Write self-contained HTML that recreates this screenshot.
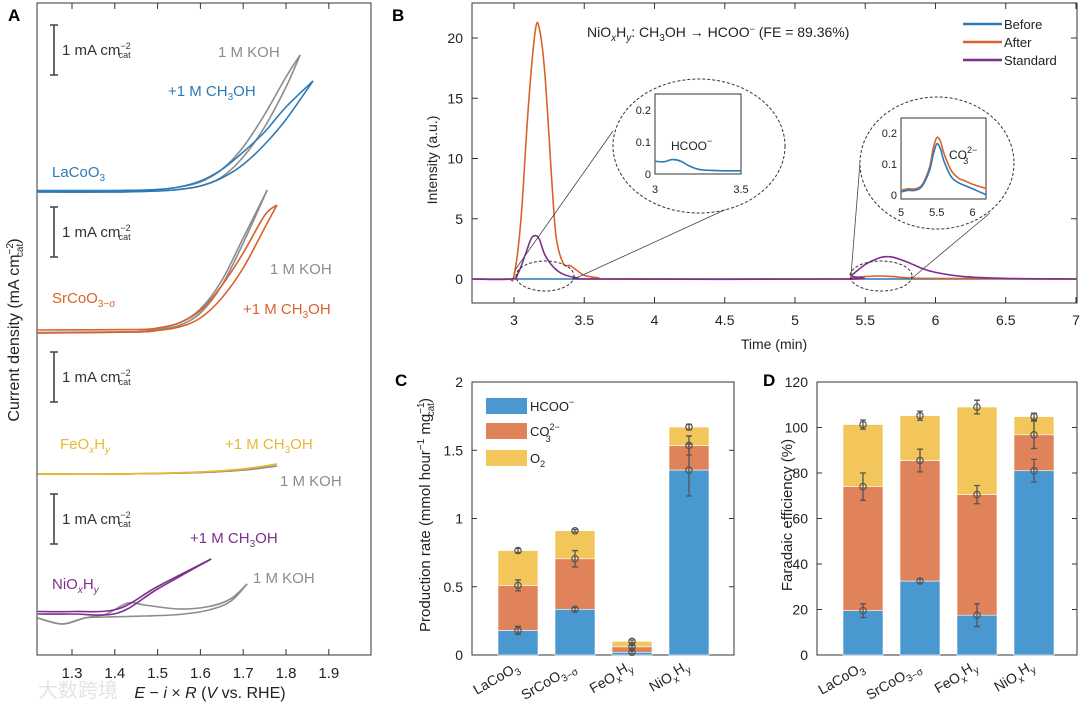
<!DOCTYPE html>
<html><head><meta charset="utf-8"><style>
body{margin:0;background:#fff}
svg{display:block;font-family:"Liberation Sans",Arial,sans-serif}
</style></head><body>
<svg id="fig" width="1080" height="708" viewBox="0 0 1080 708" xmlns="http://www.w3.org/2000/svg">
<g id="gA"></g>
<g id="gB"></g>
<g id="gC"></g>
<g id="gD"></g>
</svg>
<script>
const NS="http://www.w3.org/2000/svg";
// ---------- Panel A data ----------
const laKohV=[1.22,1.4,1.5,1.55,1.6,1.65,1.7,1.75,1.8,1.833];
const laKohF=[0,0,0.02,0.05,0.12,0.3,0.7,1.3,2.1,2.74];
const laKohR=[0.02,0.02,0.05,0.1,0.2,0.45,0.9,1.55,2.3,2.74];
const laMeV=[1.22,1.4,1.5,1.55,1.6,1.65,1.7,1.75,1.8,1.863];
const laMeF=[0,0,0.02,0.05,0.12,0.28,0.55,0.95,1.45,2.22];
const laMeR=[0.03,0.03,0.05,0.1,0.22,0.45,0.8,1.2,1.7,2.22];
const srKohV=[1.22,1.45,1.5,1.55,1.6,1.65,1.7,1.756];
const srKohF=[0,0.02,0.06,0.15,0.4,0.95,1.8,2.86];
const srKohR=[0.01,0.03,0.08,0.2,0.48,1.05,1.9,2.86];
const srMeV=[1.22,1.45,1.5,1.55,1.6,1.65,1.7,1.75,1.779];
const srMeF=[0,0.02,0.05,0.12,0.3,0.7,1.3,2.1,2.56];
const srMeR=[0.06,0.07,0.1,0.2,0.45,0.95,1.6,2.35,2.56];
const feV=[1.22,1.4,1.6,1.7,1.779];
const feKoh=[0,0,0.03,0.08,0.16];
const feMe=[0,0,0.04,0.1,0.2];
const niMeV=[1.22,1.3,1.407,1.5,1.625];
const niMeF=[0,0,0.02,0.5,1.1];
const niMeR=[0.05,0.05,0.1,0.55,1.1];
const niKohV=[1.22,1.277,1.33,1.38,1.43,1.47,1.55,1.62,1.67,1.709];
const niKohF=[-0.08,-0.2,-0.08,0.0,0.22,0.18,0.1,0.15,0.3,0.6];
const niKohR=[-0.08,-0.2,-0.08,-0.06,-0.05,-0.04,-0.01,0.08,0.25,0.6];
const aTicks=[1.3,1.4,1.5,1.6,1.7,1.8,1.9];
// ---------- Panel B data ----------
const tAfter=[2.7,2.95,3.0,3.05,3.1,3.15,3.18,3.22,3.27,3.3,3.35,3.4,3.45,3.5,3.6,3.7,5.3,5.4,5.5,5.6,5.7,5.8,6.0,7];
const iAfter=[0,0,0.3,5,14,20.5,20.8,17,8,3.5,1.3,1.1,0.7,0.3,0.1,0,0,0.1,0.2,0.25,0.2,0.1,0.05,0];
const tStd=[2.7,2.98,3.03,3.08,3.12,3.15,3.18,3.22,3.28,3.35,3.45,3.6,5.35,5.4,5.5,5.6,5.65,5.7,5.8,5.9,6.0,6.2,6.5,7];
const iStd=[0,0,0.5,2,3.3,3.6,3.3,2,1,0.4,0.1,0,0,0.3,1.2,1.75,1.85,1.8,1.4,0.9,0.55,0.2,0.05,0];
const tBefore=[2.7,7];
const iBefore=[0,0];
const bTicksX=[3,3.5,4,4.5,5,5.5,6,6.5,7];
const bTicksY=[0,5,10,15,20];
const in1T=[3,3.05,3.1,3.15,3.2,3.25,3.3,3.4,3.5];
const in1I=[0.04,0.038,0.045,0.04,0.025,0.015,0.012,0.01,0.01];
const in2T=[5,5.1,5.2,5.3,5.4,5.45,5.5,5.55,5.6,5.7,5.8,5.9,6.0,6.2];
const in2Before=[0.01,0.015,0.015,0.03,0.08,0.13,0.165,0.15,0.11,0.06,0.04,0.03,0.02,0.0];
const in2After=[0.015,0.02,0.02,0.035,0.09,0.15,0.185,0.175,0.135,0.08,0.055,0.045,0.035,0.02];
// ---------- Panel C/D data ----------
const cats=["LaCoO3","SrCoO3-σ","FeOxHy","NiOxHy"];
const cHcoo=[0.18,0.335,0.02,1.355];
const cCo3=[0.33,0.37,0.04,0.18];
const cO2=[0.255,0.205,0.04,0.135];
const cErrH=[0.03,0.015,0.01,0.19];
const cErrC=[0.04,0.06,0.01,0.07];
const cErrO=[0.015,0.01,0.01,0.02];
const cTicks=[0,0.5,1,1.5,2];
const dHcoo=[19.5,32.5,17.5,81];
const dCo3=[54.5,53,53,15.8];
const dO2=[27.3,19.7,38.5,8];
const dErrH=[3,1,5,5];
const dErrC=[6,5,4,6];
const dErrO=[2,2,3,1.5];
const dTicks=[0,20,40,60,80,100,120];

function el(tag,attrs,parent){const e=document.createElementNS(NS,tag);for(const k in attrs)e.setAttribute(k,attrs[k]);parent.appendChild(e);return e;}
function path(xs,ys,fx,fy){
  const P=xs.map((v,i)=>[fx(v),fy(ys[i])]);
  if(P.length<3)return "M"+P.map(p=>p[0].toFixed(1)+","+p[1].toFixed(1)).join("L");
  let d="M"+P[0][0].toFixed(1)+","+P[0][1].toFixed(1);
  for(let i=0;i<P.length-1;i++){
    const p0=P[i-1]||P[i],p1=P[i],p2=P[i+1],p3=P[i+2]||P[i+1];
    const c1=[p1[0]+(p2[0]-p0[0])/6,p1[1]+(p2[1]-p0[1])/6];
    const c2=[p2[0]-(p3[0]-p1[0])/6,p2[1]-(p3[1]-p1[1])/6];
    d+="C"+c1.map(n=>n.toFixed(1)).join(",")+" "+c2.map(n=>n.toFixed(1)).join(",")+" "+p2[0].toFixed(1)+","+p2[1].toFixed(1);
  }
  return d;
}
function txt(parent,x,y,html,attrs){const t=el("text",Object.assign({x:x,y:y,"font-size":14,fill:"#222"},attrs||{}),parent);t.innerHTML=html;return t;}
const SUB='<tspan dy="4" font-size="10">', SUP='<tspan dy="-6" font-size="10">', END='</tspan>';

// ================= Panel A =================
const gA=document.getElementById('gA');
const xA=v=>72+(v-1.3)*428;
let e;
e=el("rect",{x:37,y:3,width:334,height:652,fill:"none",stroke:"#333","stroke-width":1},gA);

aTicks.forEach(v=>{
  e=el("line",{x1:xA(v),x2:xA(v),y1:655,y2:649,stroke:"#333"},gA);
  
  e=el("line",{x1:xA(v),x2:xA(v),y1:3,y2:9,stroke:"#333"},gA);
  
  e=txt(gA,xA(v),678,v.toFixed(1),{"text-anchor":"middle","font-size":15});
  
});
e=txt(gA,210,698,'<tspan font-style="italic">E</tspan> − <tspan font-style="italic">i</tspan> × <tspan font-style="italic">R</tspan> (<tspan font-style="italic">V</tspan> vs. RHE)',{"text-anchor":"middle","font-size":16});

e=txt(gA,0,0,'Current density (mA cm'+SUP+'−2'+END+'<tspan dy="10" dx="-14" font-size="10">cat'+END+'<tspan dy="-4">)'+END,{"text-anchor":"middle","font-size":16,transform:"translate(19,330) rotate(-90)"});

e=txt(gA,8,21,'A',{"font-size":17,"font-weight":"bold",fill:"#000"});

function loop(v,f,r,base,color,name){
  const fy=j=>base-j*50;
  e=el("path",{d:path(v,f,xA,fy),fill:"none",stroke:color,"stroke-width":1.6},gA);
  
  e=el("path",{d:path(v,r,xA,fy),fill:"none",stroke:color,"stroke-width":1.6},gA);
  
}
const GR="#8c8c8c",BL="#2a7ab8",OR="#d9622b",YE="#e8b830",PU="#7e2f8e";
loop(laKohV,laKohF,laKohR,192,GR,'lacoo3-koh');
loop(laMeV,laMeF,laMeR,192,BL,'lacoo3-meoh');
loop(srKohV,srKohF,srKohR,333,GR,'srcoo3-koh');
loop(srMeV,srMeF,srMeR,333,OR,'srcoo3-meoh');
loop(feV,feKoh,feKoh,474,GR,'feoxhy-koh');
loop(feV,feMe,feMe,474,YE,'feoxhy-meoh');
loop(niKohV,niKohF,niKohR,614,GR,'nioxhy-koh');
loop(niMeV,niMeF,niMeR,614,PU,'nioxhy-meoh');
[25,207,352,494].forEach((y0,i)=>{
  e=el("path",{d:`M50,${y0}H58M54,${y0}V${y0+50}M50,${y0+50}H58`,stroke:"#444","stroke-width":1.6,fill:"none"},gA);
  
  e=txt(gA,62,y0+30,'1 mA cm'+'<tspan dy="-6" font-size="9">−2</tspan><tspan dy="9" dx="-12" font-size="9">cat</tspan>',{fill:"#333",'font-size':15});
  
});
const CH3OH='+1 M CH'+SUB+'3'+END+'<tspan dy="-4">OH'+END;
[[218,57,'1 M KOH',GR],[168,96,CH3OH,BL],[52,177,'LaCoO'+SUB+'3'+END,BL],
 [270,274,'1 M KOH',GR],[243,314,CH3OH,OR],[52,303,'SrCoO'+SUB+'3−σ'+END,OR],
 [60,449,'FeO'+SUB+'<tspan font-style="italic">x</tspan>'+END+'<tspan dy="-4">H'+END+SUB+'<tspan font-style="italic">y</tspan>'+END,YE],[225,449,CH3OH,YE],[280,486,'1 M KOH',GR],
 [190,543,CH3OH,PU],[253,583,'1 M KOH',GR],[52,589,'NiO'+SUB+'<tspan font-style="italic">x</tspan>'+END+'<tspan dy="-4">H'+END+SUB+'<tspan font-style="italic">y</tspan>'+END,PU]
].forEach(a=>{e=txt(gA,a[0],a[1],a[2],{fill:a[3],'font-size':15});
  });
e=txt(gA,38,697,'大数跨境',{"font-family":"'Liberation Sans','Noto Sans CJK SC',sans-serif","font-size":20,fill:"#ddd",opacity:0.8});


// ================= Panel B =================
const gB=document.getElementById('gB');
const xB=t=>514+(t-3)*140.5, yB=v=>279-v*12.05;
e=el("rect",{x:472,y:3,width:605,height:300,fill:"none",stroke:"#333"},gB);

bTicksX.forEach(t=>{
  e=el("line",{x1:xB(t),x2:xB(t),y1:303,y2:297,stroke:"#333"},gB);
  
  e=el("line",{x1:xB(t),x2:xB(t),y1:3,y2:9,stroke:"#333"},gB);
  
  e=txt(gB,xB(t),325,String(t),{"text-anchor":"middle","font-size":14});
  
});
bTicksY.forEach(v=>{
  e=el("line",{x1:472,x2:478,y1:yB(v),y2:yB(v),stroke:"#333"},gB);
  
  e=el("line",{x1:1077,x2:1071,y1:yB(v),y2:yB(v),stroke:"#333"},gB);
  
  e=txt(gB,463,yB(v)+5,String(v),{"text-anchor":"end","font-size":14});
  
});
e=txt(gB,774,349,'Time (min)',{"text-anchor":"middle","font-size":14});

e=txt(gB,0,0,'Intensity (a.u.)',{"text-anchor":"middle","font-size":14,transform:"translate(437,160) rotate(-90)"});

e=txt(gB,392,21,'B',{"font-size":17,"font-weight":"bold",fill:"#000"});

e=txt(gB,587,37,'NiO'+SUB+'<tspan font-style="italic">x</tspan>'+END+'<tspan dy="-4">H'+END+SUB+'<tspan font-style="italic">y</tspan>'+END+'<tspan dy="-4">: CH'+END+SUB+'3'+END+'<tspan dy="-4">OH → HCOO'+END+'<tspan dy="-5" font-size="9">−</tspan><tspan dy="5"> (FE = 89.36%)</tspan>',{"font-size":14});

e=el("path",{d:path(tBefore,iBefore,xB,yB),fill:"none",stroke:BL,"stroke-width":1.6},gB);

e=el("path",{d:path(tAfter,iAfter,xB,yB),fill:"none",stroke:OR,"stroke-width":1.6},gB);

e=el("path",{d:path(tStd,iStd,xB,yB),fill:"none",stroke:PU,"stroke-width":1.6},gB);

[['Before',BL,24],['After',OR,42],['Standard',PU,60]].forEach(a=>{
  e=el("line",{x1:963,x2:1002,y1:a[2],y2:a[2],stroke:a[1],"stroke-width":2.5},gB);
  
  e=txt(gB,1004,a[2]+5,a[0],{"font-size":13});
  
});
[[545,276,29,15],[881,276,31,15]].forEach(c=>{
  e=el("ellipse",{cx:c[0],cy:c[1],rx:c[2],ry:c[3],fill:"none",stroke:"#333","stroke-dasharray":"3,2"},gB);
  });
[[515,270,613,131],[574,279,731,207],[851,275,860,163],[911,279,990,213]].forEach(l=>{
  e=el("line",{x1:l[0],y1:l[1],x2:l[2],y2:l[3],stroke:"#444","stroke-width":0.8},gB);
  });
[[699,146,86,67],[937,163,77,66]].forEach(c=>{
  e=el("ellipse",{cx:c[0],cy:c[1],rx:c[2],ry:c[3],fill:"#fff",stroke:"#333","stroke-dasharray":"3,2"},gB);
  });
const x1=t=>655+(t-3)*172, y1=v=>174-v*320;
e=el("rect",{x:655,y:94,width:86,height:80,fill:"none",stroke:"#333"},gB);

[0,0.1,0.2].forEach(v=>{e=txt(gB,651,y1(v)+4,String(v),{"text-anchor":"end","font-size":11});
  });
[3,3.5].forEach(t=>{e=txt(gB,x1(t),193,String(t),{"text-anchor":"middle","font-size":11});
  });
e=el("path",{d:path(in1T,in1I,x1,y1),fill:"none",stroke:BL,"stroke-width":1.6},gB);

e=txt(gB,671,150,'HCOO<tspan dy="-6" font-size="9">−</tspan>',{"font-size":12});

const x2=t=>901+(t-5)*71.5, y2=v=>195-v*310;
e=el("rect",{x:901,y:118,width:85,height:81,fill:"none",stroke:"#333"},gB);

[0,0.1,0.2].forEach(v=>{e=txt(gB,897,y2(v)+4,String(v),{"text-anchor":"end","font-size":11});
  });
[5,5.5,6].forEach(t=>{e=txt(gB,x2(t),216,String(t),{"text-anchor":"middle","font-size":11});
  });
e=el("path",{d:path(in2T,in2After,x2,y2),fill:"none",stroke:OR,"stroke-width":1.6},gB);

e=el("path",{d:path(in2T,in2Before,x2,y2),fill:"none",stroke:BL,"stroke-width":1.6},gB);

e=txt(gB,949,159,'CO<tspan dy="-6" font-size="9">2−</tspan><tspan dy="11" dx="-14" font-size="9">3</tspan>',{"font-size":12});


// ================= Panels C & D =================
const BC="#4a98d0",OC="#e0825a",YC="#f2c65a";
function stacked(g,left,right,ymax,ticks,centers,H,C,O,eH,eC,eO,pfx){
  const top=382,bot=655,yS=v=>bot-v*(bot-top)/ymax;
  e=el("rect",{x:left,y:top,width:right-left,height:bot-top,fill:"none",stroke:"#333"},g);
  
  ticks.forEach(v=>{
    e=el("line",{x1:left,x2:left+5,y1:yS(v),y2:yS(v),stroke:"#333"},g);
    
    e=el("line",{x1:right,x2:right-5,y1:yS(v),y2:yS(v),stroke:"#333"},g);
    
    e=txt(g,left-9,yS(v)+5,String(v),{"text-anchor":"end","font-size":14});
    
  });
  centers.forEach((cx,i)=>{
    const segs=[[0,H[i],BC,'hcoo'],[H[i],H[i]+C[i],OC,'co3'],[H[i]+C[i],H[i]+C[i]+O[i],YC,'o2']];
    segs.forEach(s=>{
      e=el("rect",{x:cx-20,y:yS(s[1]),width:40,height:yS(s[0])-yS(s[1]),fill:s[2],stroke:"#fff","stroke-width":0.6},g);
      
    });
    [[H[i],eH[i]],[H[i]+C[i],eC[i]],[H[i]+C[i]+O[i],eO[i]]].forEach(p=>{
      const y0=yS(p[0]-p[1]),y1v=yS(p[0]+p[1]);
      e=el("path",{d:`M${cx},${y0}V${y1v}M${cx-3},${y0}H${cx+3}M${cx-3},${y1v}H${cx+3}`,stroke:"#555","stroke-width":1.3,fill:"none"},g);
      
      e=el("circle",{cx:cx,cy:yS(p[0]),r:3.2,fill:"none",stroke:"#555","stroke-width":1.2},g);
      
    });
    const lbls=['LaCoO'+SUB+'3'+END,'SrCoO'+SUB+'3−σ'+END,'FeO'+SUB+'x'+END+'<tspan dy="-6">H'+END+SUB+'y'+END,'NiO'+SUB+'x'+END+'<tspan dy="-6">H'+END+SUB+'y'+END];
    e=txt(g,0,0,lbls[i],{"text-anchor":"end","font-size":14,transform:`translate(${cx+2},670) rotate(-30)`});
    
  });
}
const gC=document.getElementById('gC');
stacked(gC,472,734,2,cTicks,[518,575,632,689],cHcoo,cCo3,cO2,cErrH,cErrC,cErrO,'panel-c');
e=txt(gC,0,0,'Production rate (mmol hour'+SUP+'−1'+END+'<tspan dy="6"> mg'+END+SUP+'−1'+END+'<tspan dy="10" dx="-14" font-size="10">cat'+END+'<tspan dy="-4">)'+END,{"text-anchor":"middle","font-size":15,transform:"translate(430,515) rotate(-90)"});

e=txt(gC,395,386,'C',{"font-size":17,"font-weight":"bold",fill:"#000"});

[['HCOO<tspan dy="-6" font-size="9">−</tspan>',BC,398],['CO<tspan dy="-6" font-size="9">2−</tspan><tspan dy="12" dx="-14" font-size="9">3</tspan>',OC,423],['O<tspan dy="4" font-size="9">2</tspan>',YC,450]].forEach(a=>{
  e=el("rect",{x:486,y:a[2],width:41,height:16,fill:a[1]},gC);
  
  e=txt(gC,530,a[2]+13,a[0],{"font-size":13});
  
});
const gD=document.getElementById('gD');
stacked(gD,817,1077,120,dTicks,[863,920,977,1034],dHcoo,dCo3,dO2,dErrH,dErrC,dErrO,'panel-d');
e=txt(gD,0,0,'Faradaic efficiency (%)',{"text-anchor":"middle","font-size":15,transform:"translate(792,515) rotate(-90)"});

e=txt(gD,763,386,'D',{"font-size":17,"font-weight":"bold",fill:"#000"});

</script>
</body></html>
